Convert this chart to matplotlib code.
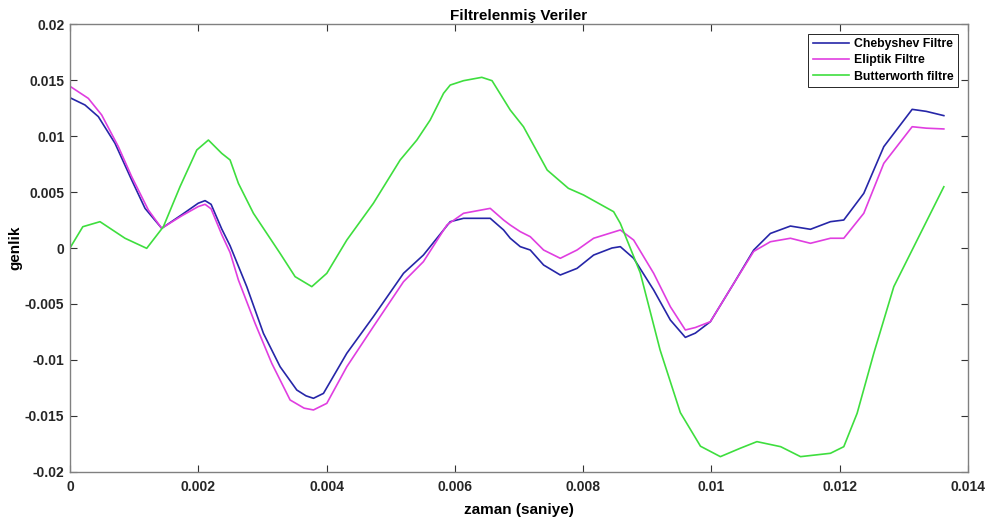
import numpy as np
import matplotlib
matplotlib.use('Agg')
import matplotlib.pyplot as plt

# zaman ekseni milisaniye cinsinden okundu, cizimde saniyeye cevriliyor
t_cheb = [0, 0.234, 0.442, 0.702, 0.962, 1.170, 1.430, 1.75, 2.0, 2.106, 2.2, 2.366, 2.496,
          2.756, 3.016, 3.276, 3.536, 3.68, 3.796, 3.952, 4.316, 4.73, 5.2, 5.51, 5.928, 6.136,
          6.552, 6.76, 6.864, 7.02, 7.176, 7.384, 7.644, 7.905, 8.164, 8.45, 8.58, 8.788,
          9.1, 9.36, 9.594, 9.75, 9.984, 10.35, 10.66, 10.92, 11.232, 11.544, 11.856, 12.064,
          12.376, 12.688, 13.13, 13.35, 13.624]
v_cheb = [0.01342, 0.01277, 0.01173, 0.00935, 0.00607, 0.00354, 0.00176, 0.00300, 0.00400,
          0.00423, 0.00390, 0.00170, 0.00020, -0.00345, -0.00762, -0.01060, -0.01268, -0.01320,
          -0.01342, -0.01298, -0.00940, -0.00613, -0.00226, -0.00063, 0.00235, 0.00265, 0.00265,
          0.00161, 0.00087, 0.00012, -0.00018, -0.00152, -0.00241, -0.00182, -0.00063, 0.00000,
          0.00012, -0.00092, -0.00375, -0.00643, -0.00798, -0.00760, -0.00658, -0.00315,
          -0.00018, 0.00130, 0.00196, 0.00167, 0.00235, 0.00250, 0.00488, 0.00905, 0.01238,
          0.01220, 0.01182]

t_elip = [0, 0.286, 0.494, 0.754, 0.962, 1.222, 1.430, 1.75, 2.0, 2.106, 2.2, 2.366, 2.496,
          2.626, 2.886, 3.146, 3.432, 3.65, 3.796, 4.004, 4.316, 4.73, 5.2, 5.51, 5.876, 6.136,
          6.552, 6.76, 6.864, 7.02, 7.176, 7.384, 7.644, 7.905, 8.164, 8.58, 8.788, 9.1,
          9.36, 9.594, 9.75, 9.984, 10.35, 10.66, 10.92, 11.232, 11.544, 11.856, 12.064,
          12.376, 12.688, 13.13, 13.35, 13.624]
v_elip = [0.01444, 0.01336, 0.01188, 0.00905, 0.00637, 0.00339, 0.00176, 0.00290, 0.00370,
          0.00390, 0.00350, 0.00120, -0.00040, -0.00286, -0.00673, -0.01030, -0.01357, -0.01430,
          -0.01446, -0.01387, -0.01060, -0.00702, -0.00301, -0.00122, 0.00205, 0.00310, 0.00354,
          0.00250, 0.00205, 0.00146, 0.00101, -0.00018, -0.00092, -0.00018, 0.00087, 0.00161,
          0.00071, -0.00226, -0.00524, -0.00732, -0.00710, -0.00658, -0.00315, -0.00030,
          0.00056, 0.00087, 0.00042, 0.00087, 0.00087, 0.00310, 0.00756, 0.01083, 0.01070,
          0.01063]

t_butt = [0, 0.2, 0.468, 0.858, 1.196, 1.456, 1.716, 1.977, 2.158, 2.366, 2.496, 2.626, 2.86,
          3.276, 3.51, 3.77, 4.004, 4.316, 4.73, 5.148, 5.408, 5.616, 5.824, 5.928, 6.136,
          6.42, 6.58, 6.864, 7.07, 7.44, 7.77, 8.008, 8.476, 8.58, 8.89, 9.2, 9.516, 9.83,
          10.14, 10.45, 10.71, 11.08, 11.39, 11.856, 12.064, 12.272, 12.532, 12.844, 13.052,
          13.624]
v_butt = [0.00000, 0.00190, 0.00235, 0.00087, -0.00003, 0.00190, 0.00548, 0.00875, 0.00964,
          0.00845, 0.00786, 0.00577, 0.00310, -0.00048, -0.00256, -0.00345, -0.00226, 0.00071,
          0.00399, 0.00786, 0.00964, 0.01143, 0.01381, 0.01455, 0.01494, 0.01524, 0.01494,
          0.01232, 0.01083, 0.00696, 0.00533, 0.00473, 0.00324, 0.00220, -0.00220, -0.00910,
          -0.01470, -0.01770, -0.01863, -0.01788, -0.01729, -0.01774, -0.01863, -0.01833,
          -0.01774, -0.01476, -0.00940, -0.00345, -0.00107, 0.00547]

x_ticks = [0, 0.002, 0.004, 0.006, 0.008, 0.01, 0.012, 0.014]
y_ticks = [-0.02, -0.015, -0.01, -0.005, 0, 0.005, 0.01, 0.015, 0.02]

plt.rcParams['font.family'] = ['Liberation Sans', 'DejaVu Sans']
plt.rcParams['font.weight'] = 'bold'

fig = plt.figure(figsize=(9.94, 5.22), dpi=100)
ax = fig.add_axes([0.0704, 0.0958, 0.9034, 0.8582])

kw = dict(lw=1.2, solid_joinstyle='round')
ax.plot(np.array(t_cheb) / 1000, v_cheb, color='#2626a8', label='Chebyshev Filtre', **kw)
ax.plot(np.array(t_elip) / 1000, v_elip, color='#e03ee0', label='Eliptik Filtre', **kw)
ax.plot(np.array(t_butt) / 1000, v_butt, color='#3ede3e', label='Butterworth filtre', **kw)

ax.set_xlim(0, 0.014)
ax.set_ylim(-0.02, 0.02)
ax.set_xticks(x_ticks)
ax.set_xticklabels(['0', '0.002', '0.004', '0.006', '0.008', '0.01', '0.012', '0.014'])
ax.set_yticks(y_ticks)
ax.set_yticklabels(['-0.02', '-0.015', '-0.01', '-0.005', '0', '0.005', '0.01', '0.015', '0.02'])
ax.tick_params(direction='in', top=True, right=True, length=5, width=0.8,
               color='#333333', labelsize=10, labelcolor='#262626')
ax.tick_params(axis='x', pad=6)
ax.tick_params(axis='y', pad=4)
for s in ax.spines.values():
    s.set_color('#808080')
    s.set_linewidth(1.0)

ax.set_title('Filtrelenmiş Veriler', fontsize=11, fontweight='bold', pad=3)
ax.set_xlabel('zaman (saniye)', fontsize=11, fontweight='bold', labelpad=6)
ax.set_ylabel('genlik', fontsize=11, fontweight='bold', labelpad=2)

leg = ax.legend(loc='upper right', fontsize=8.8, fancybox=False, edgecolor='#262626',
                framealpha=1, handlelength=3.0, handletextpad=0.4, borderpad=0.35,
                labelspacing=0.35, borderaxespad=0.8)
leg.get_frame().set_linewidth(0.7)

fig.savefig('out.png', dpi=100)
